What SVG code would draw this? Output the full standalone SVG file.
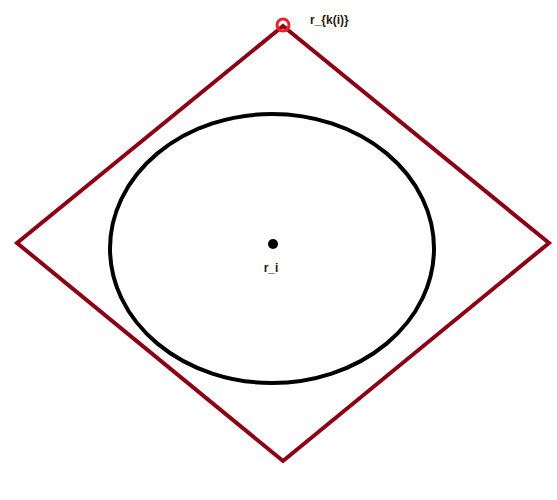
<svg xmlns="http://www.w3.org/2000/svg" width="557" height="500" viewBox="0 0 557 500">
<style>
.lbl{font-family:"Liberation Sans",Arial,sans-serif;font-size:12px;font-weight:bold;fill:#2a1a10}
</style>
<rect width="557" height="500" fill="#fff"/>
<g id="diamond"><polygon points="283,26 549,243 283,461 17,243" fill="none" stroke="#8b0014" stroke-width="4"/></g>
<g id="ellipse"><ellipse cx="272" cy="248.5" rx="162" ry="134.5" fill="none" stroke="#000" stroke-width="4"/></g>
<g id="ri"><circle cx="273" cy="244" r="5" fill="#000"/><text class="lbl" x="271" y="272" text-anchor="middle">r_i</text></g>
<g id="rk"><circle cx="283" cy="25" r="6" fill="none" stroke="#e8202a" stroke-width="3"/><text class="lbl" x="310" y="24">r_{k(i)}</text></g>
<g id="connectors"/>
</svg>
